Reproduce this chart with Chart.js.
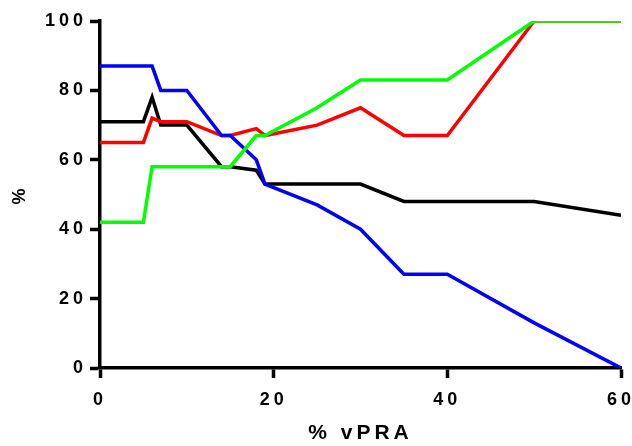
<!DOCTYPE html>
<html>
<head>
<meta charset="utf-8">
<script src="https://cdn.jsdelivr.net/npm/chart.js@4"></script>
<style>
html,body{margin:0;padding:0;background:#fff;}
#wrap{width:632px;height:446px;}
</style>
</head>
<body>
<div id="wrap"><canvas id="c" width="632" height="446"></canvas></div>
<script>
const xValues = [0, 5, 6, 7, 10, 14, 15, 18, 19, 25, 30, 35, 40, 50, 60];
const blackSeries = [71, 71, 78, 70, 70, 58, 58, 57, 53, 53, 53, 48, 48, 48, 44];
const redSeries   = [65, 65, 72, 71, 71, 67, 67, 69, 67, 70, 75, 67, 67, 100, 100];
const blueSeries  = [87, 87, 87, 80, 80, 67, 67, 60, 53, 47, 40, 27, 27, 13, 0];
const greenSeries = [42, 42, 58, 58, 58, 58, 58, 67, 67, 75, 83, 83, 83, 100, 100];
const xTicks = [0, 20, 40, 60];
const yTicks = [0, 20, 40, 60, 80, 100];
const xTitle = '% vPRA';
const yTitle = '%';

function pts(ys){ return xValues.map((x,i)=>({x:x,y:ys[i]})); }
function ds(data,color){
  return {data:pts(data),borderColor:color,backgroundColor:color,borderWidth:3.5,pointRadius:0,tension:0,fill:false};
}
const LS='4px';
const spacingPlugin = {
  id:'spacing',
  beforeUpdate(c){ c.ctx.letterSpacing=LS; },
  beforeLayout(c){ c.ctx.letterSpacing=LS; },
  beforeDraw(c){ c.ctx.letterSpacing=LS; },
  beforeDatasetsDraw(c){ c.ctx.letterSpacing=LS; }
};
const FAM='"Liberation Sans", Arial, sans-serif';
const tickFont = {family:FAM, size:18, weight:'bold'};
const gridOpts = {drawOnChartArea:false, drawTicks:true, tickLength:10, tickWidth:3.5, color:'#000'};
new Chart(document.getElementById('c'), {
  type:'line',
  data:{datasets:[ds(greenSeries,'#00ff00'), ds(blueSeries,'#0000ff'), ds(redSeries,'#ff0000'), ds(blackSeries,'#000000')]},
  options:{
    responsive:false, animation:false,
    layout:{padding:{top:21,right:11,left:0,bottom:0}},
    plugins:{legend:{display:false},tooltip:{enabled:false}},
    scales:{
      x:{type:'linear',min:0,max:60,
        afterBuildTicks(s){ s.ticks = xTicks.map(v=>({value:v})); },
        ticks:{color:'#000',font:tickFont,padding:11,maxRotation:0,autoSkip:false},
        grid:gridOpts, border:{display:true,width:3.5,color:'#000'},
        title:{display:true,text:xTitle,color:'#000',font:{family:FAM,size:21,weight:'bold'},padding:{top:13,bottom:0}},
        afterFit(s){ s.height=78; s.paddingLeft=0; s.paddingRight=0; }
      },
      y:{type:'linear',min:0,max:100,
        afterBuildTicks(s){ s.ticks = yTicks.map(v=>({value:v})); },
        ticks:{color:'#000',font:tickFont,padding:3,autoSkip:false},
        grid:gridOpts, border:{display:true,width:3.5,color:'#000'},
        title:{display:true,text:yTitle,color:'#000',font:{family:FAM,size:18,weight:'bold'},padding:{top:9,bottom:0}},
        afterFit(s){ s.width=100; s.paddingTop=0; s.paddingBottom=0; }
      }
    }
  },
  plugins:[spacingPlugin]
});
</script>
</body>
</html>
